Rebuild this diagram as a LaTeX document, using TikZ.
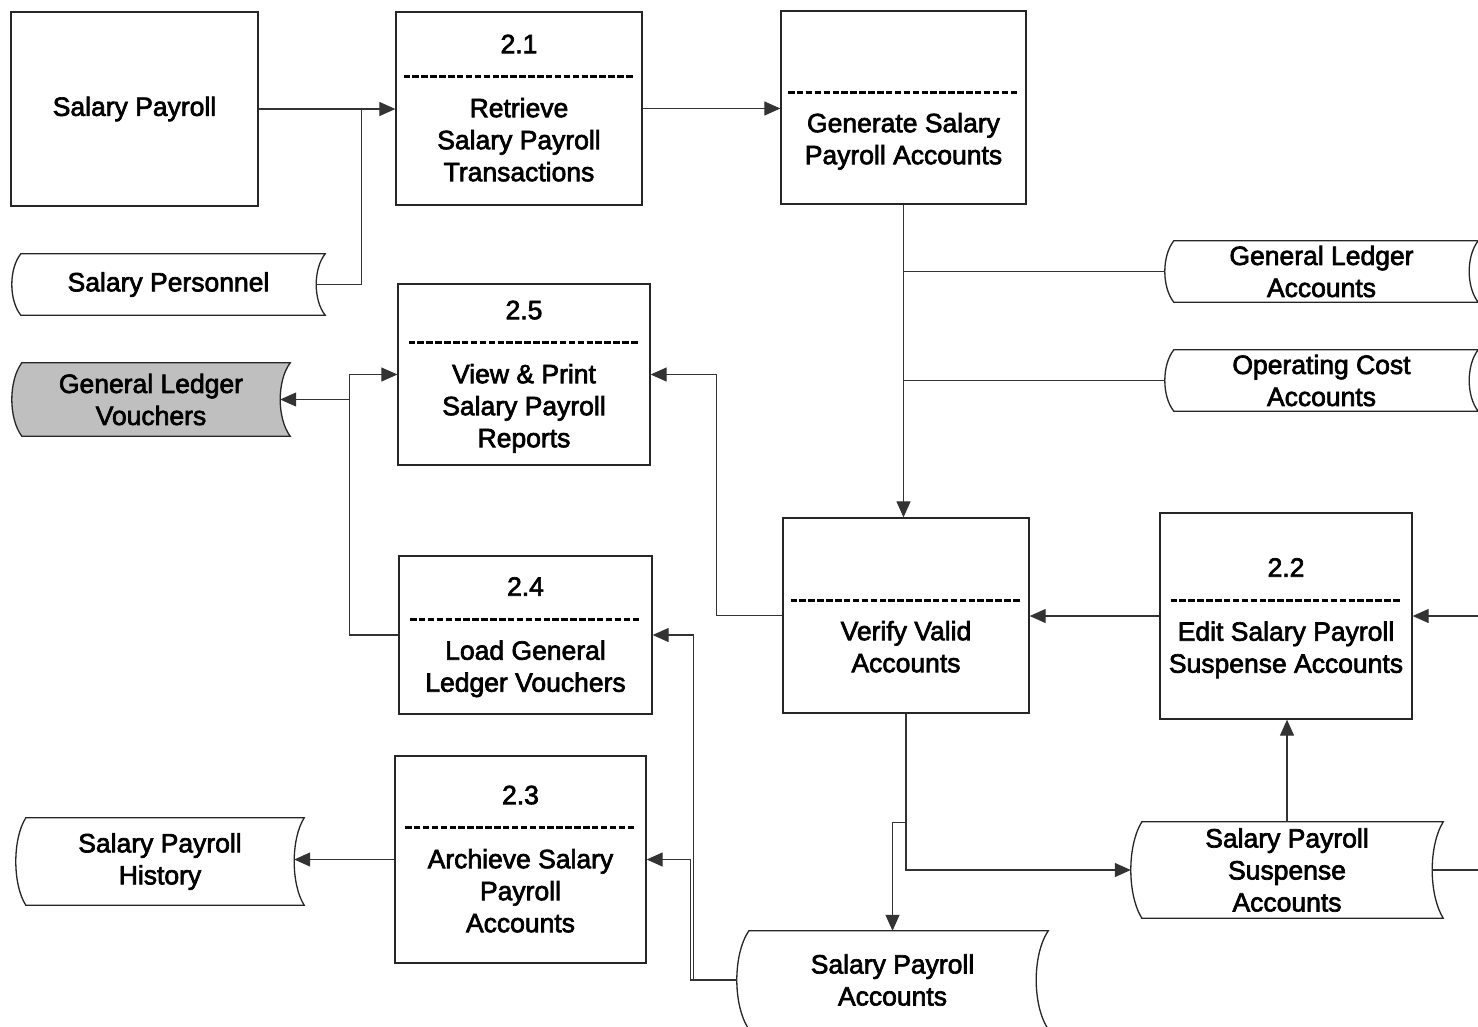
\documentclass[tikz,border=0pt]{standalone}
\usepackage{fontspec}
\setmainfont{Liberation Sans}[FakeBold=2.5]
\usetikzlibrary{arrows.meta,calc,backgrounds}

\tikzset{
  lbl/.style={font=\fontsize{26.5}{32}\selectfont, align=center, inner sep=0pt},
  procbox/.style={lbl, rectangle, draw=black!85, line width=1.3pt},
  store/.style={lbl, rectangle},
  storeline/.style={draw=black!85, line width=1.3pt},
  flow/.style={draw=black!80, line width=1.2pt},
  arr/.style={flow, -{Triangle[length=16pt,width=14pt]}},
  sepline/.style={draw=black, line width=3pt, dash pattern=on 6.5pt off 2.4pt},
}

% tall strut for the first line of a process box
\newcommand\tstrut{\rule{0pt}{27pt}}

% data-store outline: convex left side, concave right side
% #1 extra options, #2 node, #3 bulge, #4 vertical control offset
\newcommand\storeoutline[4][]{%
  \draw[storeline,#1] ($(#2.north west)+(#3,0)$) -- (#2.north east)
    .. controls +({-4*#3/3},{-#4}) and +({-4*#3/3},{#4}) .. (#2.south east)
    -- ($(#2.south west)+(#3,0)$)
    .. controls +({-4*#3/3},{#4}) and +({-4*#3/3},{-#4}) .. ($(#2.north west)+(#3,0)$)
    -- cycle;}

% dashed separator inside a process box
\newcommand\sepdash[2]{\draw[sepline] ($(#1.center)+(-115.5,#2)$) -- ++(231,0);}

\begin{document}
\begin{tikzpicture}[x=1pt,y=1pt]
\useasboundingbox (0,0) rectangle (1478,-1026);

% ---------- processes and external entity ----------
\node[procbox, minimum width=247pt, minimum height=194pt] (sp) at (134.5,-109) {Salary Payroll};
\node[procbox, minimum width=246pt, minimum height=193pt] (p21) at (519,-108.5)
  {\tstrut 2.1\\ \strut\\ Retrieve\\ Salary Payroll\\ Transactions\strut};
\node[procbox, minimum width=245pt, minimum height=193pt] (gen) at (903.5,-107.5)
  {\tstrut\\ \strut\\ Generate Salary\\ Payroll Accounts\strut};
\node[procbox, minimum width=252pt, minimum height=181pt] (p25) at (524,-374.5)
  {\tstrut 2.5\\ \strut\\ View \& Print\\ Salary Payroll\\ Reports\strut};
\node[procbox, minimum width=253pt, minimum height=158pt] (p24) at (525.5,-635)
  {\tstrut 2.4\\ \strut\\ Load General\\ Ledger Vouchers\strut};
\node[procbox, minimum width=251pt, minimum height=207pt] (p23) at (520.5,-859.5)
  {\tstrut 2.3\\ \strut\\ Archieve Salary\\ Payroll\\ Accounts\strut};
\node[procbox, minimum width=246pt, minimum height=195pt] (ver) at (906,-615.5)
  {\tstrut\\ \strut\\ Verify Valid\\ Accounts\strut};
\node[procbox, minimum width=252pt, minimum height=206pt] (p22) at (1286,-616)
  {\tstrut 2.2\\ \strut\\ Edit Salary Payroll\\ Suspense Accounts\strut};

\sepdash{p21}{32.5}
\sepdash{p25}{32.5}
\sepdash{p23}{32.5}
\sepdash{gen}{15.5}
\sepdash{ver}{15.5}
\sepdash{p24}{16}
\sepdash{p22}{16}

% ---------- data stores ----------
\node[store, minimum width=313pt, minimum height=61pt] (pers) at (168.5,-284.5) {Salary Personnel};
\node[store, minimum width=278pt, minimum height=73pt] (glv) at (151,-399.5) {General Ledger\\ Vouchers};
\node[store, minimum width=313pt, minimum height=61pt] (gla) at (1321.5,-271.5) {General Ledger\\ Accounts};
\node[store, minimum width=313pt, minimum height=61pt] (ocs) at (1321.5,-380.5) {Operating Cost\\ Accounts};
\node[store, minimum width=288pt, minimum height=87pt] (hist) at (160,-861.5) {Salary Payroll\\ History};
\node[store, minimum width=312pt, minimum height=96pt] (susp) at (1287,-870) {Salary Payroll\\ Suspense\\ Accounts};
\node[store, minimum width=311pt, minimum height=98pt] (spa) at (892.5,-980) {Salary Payroll\\ Accounts};

\begin{pgfonlayer}{background}
  \fill[white] (0,0) rectangle (1478,-1026);
  \storeoutline{pers}{9}{15}
  \storeoutline[fill=black!25]{glv}{10}{18}
  \storeoutline{gla}{9}{15}
  \storeoutline{ocs}{9}{15}
  \storeoutline{hist}{10}{21}
  \storeoutline{susp}{11}{24}
  \storeoutline{spa}{12}{24}
\end{pgfonlayer}

% ---------- flows ----------
\coordinate (j1) at ($(sp.east)+(103,0)$);
\coordinate (j2) at ($(ver.south)+(0,-108.5)$);
\coordinate (j3) at (350,-399.5);
\coordinate (inR) at (1478,-616);
\coordinate (outR) at (1478,-870);

\draw[arr] (sp.east) -- (sp.east -| p21.west);
\draw[flow] ($(pers.east)+(-9,0)$) -| (j1);
\draw[arr] (p21.east) -- (p21.east -| gen.west);
\draw[arr] (gen.south) -- (gen.south |- ver.north);
\draw[flow] (gla.west) -- (gla.west -| gen.south);
\draw[flow] (ocs.west) -- (ocs.west -| gen.south);
\draw[arr] (ver.west) -- ++(-66,0) |- (p25.east);
\draw[arr] (p22.west) -- (p22.west -| ver.east);
\draw[arr] (inR) -- (p22.east);
\draw[arr] (susp.north) -- (susp.north |- p22.south);
\draw[flow] ($(susp.east)+(-11,0)$) -- (outR);
\draw[arr] (ver.south) |- (susp.west);
\draw[arr] (j2) -| (spa.north);
\draw[arr] (spa.west) -- ++(-46,0) |- (p23.east);
\draw[arr] (spa.west) -- ++(-43,0) |- (p24.east);
\draw[arr] (p24.west) -- ++(-49,0) |- (p25.west);
\draw[arr] (j3) -- ($(glv.east)+(-10,0)$);
\draw[arr] (p23.west) -- ($(p23.west -| hist.east)+(-10,0)$);

\end{tikzpicture}
\end{document}
